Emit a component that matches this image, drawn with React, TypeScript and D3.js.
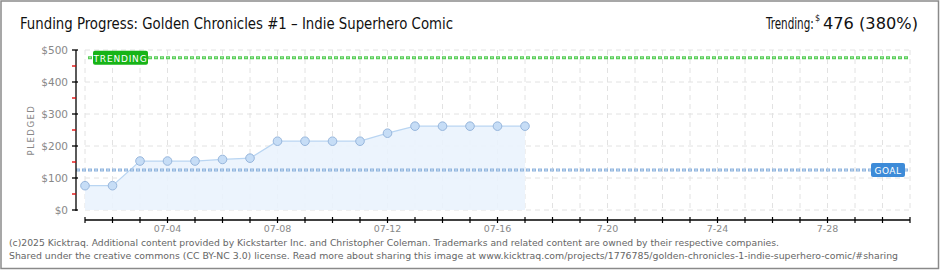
import React from "react";
import * as d3 from "d3";

const dates = ["07-01","07-02","07-03","07-04","07-05","07-06","07-07","07-08","07-09","07-10","07-11","07-12","07-13","07-14","07-15","07-16","07-17"];
const pledged = [76, 76, 153, 153, 153, 158, 162, 215, 215, 215, 215, 240, 262, 262, 262, 262, 262];
const allDays = d3.range(1, 32).map((d) => `07-${String(d).padStart(2, "0")}`);
const xTickLabels = [
  { day: "07-04", label: "07-04" },
  { day: "07-08", label: "07-08" },
  { day: "07-12", label: "07-12" },
  { day: "07-16", label: "07-16" },
  { day: "07-20", label: "7-20" },
  { day: "07-24", label: "7-24" },
  { day: "07-28", label: "7-28" },
];
const yTicks = [0, 100, 200, 300, 400, 500];
const yMinorTicks = [50, 150, 250, 350, 450];
const goal = 125;
const trending = 476;
const title = "Funding Progress: Golden Chronicles #1 \u2013 Indie Superhero Comic";
const trendAmount = "476 (380%)";
const footer1 = "(c)2025 Kicktraq. Additional content provided by Kickstarter Inc. and Christopher Coleman. Trademarks and related content are owned by their respective companies.";
const footer2 = "Shared under the creative commons (CC BY-NC 3.0) license. Read more about sharing this image at www.kicktraq.com/projects/1776785/golden-chronicles-1-indie-superhero-comic/#sharing";

const W = 940, H = 270;
const left = 85, right = 910, top = 50, bottom = 210;
const axisX = 76, axisY = 220;

export default function App() {
  const x = d3.scalePoint<string>().domain(allDays).range([left, right]);
  const y = d3.scaleLinear().domain([0, 500]).range([bottom, top]);

  const area = d3.area<number>()
    .x((_, i) => x(dates[i])!)
    .y0(y(0))
    .y1((d) => y(d));
  const line = d3.line<number>()
    .x((_, i) => x(dates[i])!)
    .y((d) => y(d));

  const tickFont = "'DejaVu Sans', sans-serif";
  const headFont = "'Liberation Sans Narrow', 'DejaVu Sans Condensed', sans-serif";

  return (
    <svg width={W} height={H} style={{ position: "absolute", left: 0, top: 0, display: "block" }}>
      <rect x={0} y={0} width={W} height={H} fill="#fff" />
      <rect x={1} y={1} width={W - 2.5} height={H - 2.5} fill="none" stroke="#8a8a8a" strokeWidth={1.5} />

      {/* title */}
      <text x={20} y={29} fontFamily={headFont} fontSize={16} fill="#111" textLength={433} lengthAdjust="spacingAndGlyphs">{title}</text>
      <g transform="translate(766,29) scale(0.77,1)">
        <text x={0} y={0} fontFamily={headFont} fontSize={15} fill="#111">Trending:</text>
      </g>
      <text x={815} y={21} fontFamily={headFont} fontSize={9} fill="#111">$</text>
      <text x={823} y={29} fontFamily={headFont} fontSize={15} fill="#111" textLength={95} lengthAdjust="spacingAndGlyphs">{trendAmount}</text>

      {/* grid */}
      {yTicks.map((t) => (
        <line key={"gy" + t} x1={left} x2={right} y1={y(t)} y2={y(t)} stroke="#e2e2e2" strokeDasharray="5,4" />
      ))}
      {allDays.map((d) => (
        <line key={"gx" + d} x1={x(d)} x2={x(d)} y1={top} y2={bottom} stroke="#e2e2e2" strokeDasharray="5,4" />
      ))}

      {/* area */}
      <path d={area(pledged)!} fill="#eaf3fd" opacity={0.9} />
      <path d={line(pledged)!} fill="none" stroke="#b9d5f2" strokeWidth={1.2} />

      {/* trending line */}
      <line x1={88} x2={right} y1={y(trending)} y2={y(trending)} stroke="#55cc55" strokeWidth={3} strokeDasharray="4,2" />
      <line x1={88} x2={right} y1={y(trending)} y2={y(trending)} stroke="#a6e8a6" strokeWidth={1} strokeDasharray="2,4" strokeDashoffset={-1} />
      <rect x={93} y={y(trending) - 7} width={55} height={14} rx={2} fill="#17b417" />
      <text x={120.5} y={y(trending) + 4} textAnchor="middle" fontFamily={tickFont} fontSize={9} fill="#fff" letterSpacing={0.8}>TRENDING</text>

      {/* goal line */}
      <line x1={axisX} x2={right} y1={y(goal)} y2={y(goal)} stroke="#8fb4dd" strokeWidth={3} strokeDasharray="4,2" />
      <line x1={axisX} x2={right} y1={y(goal)} y2={y(goal)} stroke="#cfe0f3" strokeWidth={1} strokeDasharray="2,4" strokeDashoffset={-1} />
      <rect x={871} y={y(goal) - 7} width={34} height={14} rx={2} fill="#3d8bd8" />
      <text x={888} y={y(goal) + 4} textAnchor="middle" fontFamily={tickFont} fontSize={9} fill="#fff" letterSpacing={0.5}>GOAL</text>

      {/* points */}
      {pledged.map((v, i) => (
        <circle key={"p" + i} cx={x(dates[i])!} cy={y(v)} r={4.3} fill="#c6ddf6" stroke="#97b6dc" strokeWidth={1} />
      ))}

      {/* y axis */}
      <line x1={axisX} x2={axisX} y1={top} y2={bottom + 1} stroke="#000" strokeWidth={1.3} />
      {yTicks.map((t) => (
        <g key={"yt" + t}>
          <line x1={axisX - 4} x2={axisX + 2} y1={y(t)} y2={y(t)} stroke="#000" strokeWidth={1.3} />
          <text x={68} y={y(t) + 4} textAnchor="end" fontFamily={tickFont} fontSize={10.5} fill="#888">{"$" + t}</text>
        </g>
      ))}
      {yMinorTicks.map((t) => (
        <line key={"ym" + t} x1={axisX - 4} x2={axisX} y1={y(t)} y2={y(t)} stroke="#e00000" strokeWidth={1.3} />
      ))}
      <text transform={`translate(34,${(top + bottom) / 2}) rotate(-90)`} textAnchor="middle" fontFamily={tickFont} fontSize={8.5} fill="#888" letterSpacing={1.5}>PLEDGED</text>

      {/* x axis */}
      <line x1={left} x2={right} y1={axisY} y2={axisY} stroke="#000" strokeWidth={1.3} />
      {allDays.map((d) => (
        <line key={"xt" + d} x1={x(d)} x2={x(d)} y1={axisY - 3} y2={axisY + 3} stroke="#000" strokeWidth={1.2} />
      ))}
      {xTickLabels.map((t) => (
        <text key={"xl" + t.day} x={x(t.day)} y={232} textAnchor="middle" fontFamily={tickFont} fontSize={9.5} fill="#888">{t.label}</text>
      ))}

      {/* footer */}
      <text x={9} y={246} fontFamily="'DejaVu Sans', sans-serif" fontSize={9.5} fill="#666" textLength={770} lengthAdjust="spacingAndGlyphs">{footer1}</text>
      <text x={9} y={259} fontFamily="'DejaVu Sans', sans-serif" fontSize={9.5} fill="#666" textLength={889} lengthAdjust="spacingAndGlyphs">{footer2}</text>
    </svg>
  );
}
